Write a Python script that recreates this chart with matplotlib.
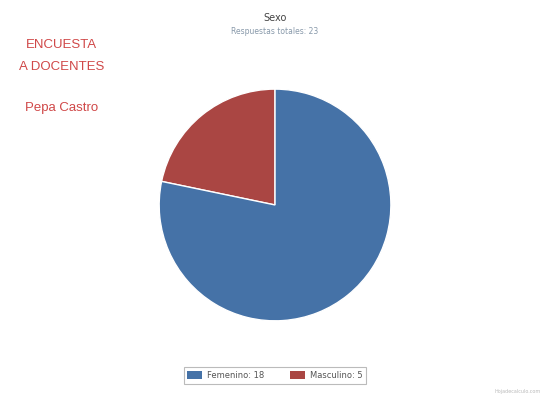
import matplotlib
matplotlib.use('Agg')
import matplotlib.pyplot as plt
from matplotlib.patches import Patch

# survey answers
categories = ['Femenino', 'Masculino']
counts = [18, 5]
colors = ['#4572a7', '#aa4643']

total = sum(counts)

fig = plt.figure(figsize=(5.43, 3.98), dpi=100)
fig.patch.set_facecolor('white')

# pie axes, Masculino drawn first so it sits just left of twelve o'clock
ax = fig.add_axes([0.291, 0.191, 0.431, 0.588])
ax.pie(counts[::-1], colors=colors[::-1], startangle=90, counterclock=True,
       wedgeprops={'edgecolor': 'white', 'linewidth': 1})
ax.set_xlim(-1.01, 1.01)
ax.set_ylim(-1.01, 1.01)
ax.set_aspect('equal')

fig.text(0.506, 0.955, 'Sexo', ha='center', va='center', fontsize=7, color='#444444')
fig.text(0.506, 0.922, 'Respuestas totales: {}'.format(total), ha='center', va='center',
         fontsize=5.5, color='#8899aa')

red = '#d04848'
for y, s in [(0.887, 'ENCUESTA'), (0.832, 'A DOCENTES'), (0.728, 'Pepa Castro')]:
    fig.text(0.114, y, s, ha='center', va='center', fontsize=9.5, color=red,
             family='Liberation Sans')

handles = [Patch(facecolor=c, edgecolor='none') for c in colors]
labels = ['{}: {}'.format(c, n) for c, n in zip(categories, counts)]
leg = fig.legend(handles, labels, loc='center', bbox_to_anchor=(0.506, 0.057), ncol=2,
                 fontsize=6, frameon=True, fancybox=False, handlelength=1.8,
                 handleheight=1.0, columnspacing=3.0, borderpad=0.45, borderaxespad=0,
                 handletextpad=0.6)
leg.get_frame().set_edgecolor('#aaaaaa')
leg.get_frame().set_linewidth(0.8)
leg._legend_box.sep = 4
for t in leg.get_texts():
    t.set_color('#555555')

fig.text(0.995, 0.01, 'Hojadecalculo.com', ha='right', va='bottom', fontsize=3.5, color='#bbbbbb')

plt.savefig('out.png', dpi=100)
plt.close()
